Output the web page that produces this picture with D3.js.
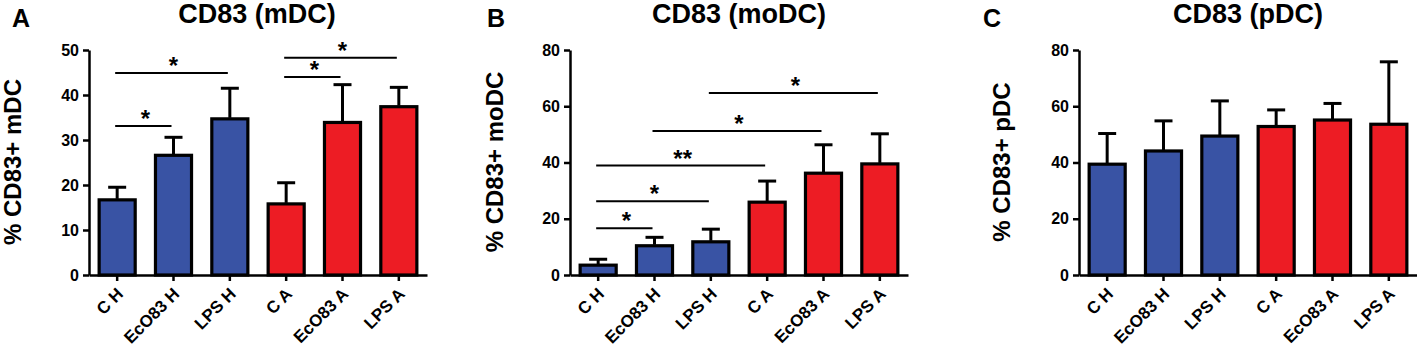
<!DOCTYPE html>
<html lang="en">
<head>
<meta charset="UTF-8">
<title>CD83 expression</title>
<script src="https://d3js.org/d3.v7.min.js"></script>
<style>
    body { margin: 0; background: #fff; }
    svg text { font-family: Arial, "Liberation Sans", sans-serif; font-weight: bold; fill: #000; }
</style>
</head>
<body>
<svg id="chart" width="1417" height="346"></svg>
<script>
    // Data
    var categories = ["C H", "EcO83 H", "LPS H", "C A", "EcO83 A", "LPS A"];
    var groupColor = ["#3953A4", "#3953A4", "#3953A4", "#ED1C24", "#ED1C24", "#ED1C24"];

    var mdcMean = [16.7, 26.6, 34.7, 15.8, 33.9, 37.4];
    var mdcSD = [2.8, 4.0, 6.8, 4.7, 8.4, 4.3];
    var mdcTicks = [0, 10, 20, 30, 40, 50];
    var mdcSig = [
        { from: "C H", to: "EcO83 H", y: 33.1, label: "*" },
        { from: "C H", to: "LPS H", y: 44.9, label: "*" },
        { from: "C A", to: "EcO83 A", y: 44.0, label: "*" },
        { from: "C A", to: "LPS A", y: 48.3, label: "*" }
    ];

    var modcMean = [3.5, 10.4, 11.8, 25.9, 36.2, 39.5];
    var modcSD = [2.1, 3.0, 4.5, 7.5, 10.1, 10.7];
    var modcTicks = [0, 20, 40, 60, 80];
    var modcSig = [
        { from: "C H", to: "EcO83 H", y: 16.6, label: "*" },
        { from: "C H", to: "LPS H", y: 26.2, label: "*" },
        { from: "C H", to: "C A", y: 38.9, label: "**" },
        { from: "EcO83 H", to: "EcO83 A", y: 51.2, label: "*" },
        { from: "LPS H", to: "LPS A", y: 64.7, label: "*" }
    ];

    var pdcMean = [39.4, 44.1, 49.4, 52.8, 55.1, 53.6];
    var pdcSD = [10.9, 10.7, 12.5, 5.9, 5.9, 22.2];
    var pdcTicks = [0, 20, 40, 60, 80];
    var pdcSig = [];

    var svg = d3.select("#chart");

    function drawPanel(p) {
        var g = svg.append("g");

        var x = d3.scaleBand()
            .domain(categories)
            .range([p.left, p.left + 338])
            .paddingInner(0.36)
            .paddingOuter(0.18);

        var y = d3.scaleLinear()
            .domain([0, p.max])
            .range([275, 50]);

        // panel letter and title
        g.append("text").attr("x", p.left - p.letterOff).attr("y", 27)
            .style("font-size", "25px").text(p.letter);
        g.append("text").attr("x", p.left + p.titleOff).attr("y", 23)
            .attr("text-anchor", "middle").style("font-size", "27px").text(p.title);

        // y label
        g.append("text")
            .attr("transform", "translate(" + (p.left - p.labelOff) + ",162) rotate(-90)")
            .attr("text-anchor", "middle")
            .style("font-size", "24px")
            .text(p.ylabel);

        // bars
        var rows = categories.map(function (c, i) {
            return { cat: c, mean: p.mean[i], sd: p.sd[i], color: groupColor[i] };
        });

        g.selectAll("rect.bar").data(rows).join("rect")
            .attr("class", "bar")
            .attr("x", function (d) { return x(d.cat); })
            .attr("y", function (d) { return y(d.mean); })
            .attr("width", x.bandwidth())
            .attr("height", function (d) { return y(0) - y(d.mean); })
            .attr("fill", function (d) { return d.color; })
            .attr("stroke", "#000")
            .attr("stroke-width", 3.2);

        // error bars
        var cx = function (d) { return x(d.cat) + x.bandwidth() / 2; };
        g.selectAll("line.err").data(rows).join("line")
            .attr("class", "err")
            .attr("x1", cx).attr("x2", cx)
            .attr("y1", function (d) { return y(d.mean) - 1; })
            .attr("y2", function (d) { return y(d.mean + d.sd); })
            .attr("stroke", "#000").attr("stroke-width", 3);
        g.selectAll("line.cap").data(rows).join("line")
            .attr("class", "cap")
            .attr("x1", function (d) { return cx(d) - 9; })
            .attr("x2", function (d) { return cx(d) + 9; })
            .attr("y1", function (d) { return y(d.mean + d.sd); })
            .attr("y2", function (d) { return y(d.mean + d.sd); })
            .attr("stroke", "#000").attr("stroke-width", 3);

        // y axis
        var yAxis = g.append("g")
            .attr("transform", "translate(" + p.left + ",0)")
            .call(d3.axisLeft(y).tickValues(p.ticks).tickSize(6).tickSizeOuter(0).tickPadding(4));
        yAxis.select(".domain").attr("stroke", "#000").attr("stroke-width", 2.5);
        yAxis.selectAll(".tick line").attr("stroke", "#000").attr("stroke-width", 2.5);
        yAxis.selectAll(".tick text").style("font-size", "16px").style("font-family", "Arial, 'Liberation Sans', sans-serif");

        // x axis
        var xAxis = g.append("g")
            .attr("transform", "translate(0," + y(0) + ")")
            .call(d3.axisBottom(x).tickSize(6).tickSizeOuter(0));
        xAxis.select(".domain").attr("stroke", "#000").attr("stroke-width", 2.5);
        xAxis.selectAll(".tick line").attr("stroke", "#000").attr("stroke-width", 2.5);
        xAxis.selectAll(".tick text")
            .style("font-size", "17px")
            .style("font-family", "Arial, 'Liberation Sans', sans-serif")
            .attr("text-anchor", "end")
            .attr("transform", "translate(7,20) rotate(-45)")
            .attr("y", 0).attr("dy", 0);

        // significance brackets
        g.selectAll("line.sig").data(p.sig).join("line")
            .attr("class", "sig")
            .attr("x1", function (d) { return x(d.from) + x.bandwidth() / 2 - 2; })
            .attr("x2", function (d) { return x(d.to) + x.bandwidth() / 2 - 2; })
            .attr("y1", function (d) { return y(d.y); })
            .attr("y2", function (d) { return y(d.y); })
            .attr("stroke", "#000").attr("stroke-width", 2);
        g.selectAll("text.star").data(p.sig).join("text")
            .attr("class", "star")
            .attr("x", function (d) { return (x(d.from) + x(d.to)) / 2 + x.bandwidth() / 2; })
            .attr("y", function (d) { return y(d.y) + 1; })
            .attr("text-anchor", "middle")
            .style("font-size", "24px")
            .text(function (d) { return d.label; });
    }

    drawPanel({ left: 89, max: 50, ticks: mdcTicks, mean: mdcMean, sd: mdcSD, sig: mdcSig,
        letter: "A", letterOff: 77, title: "CD83 (mDC)", titleOff: 168, ylabel: "% CD83+ mDC", labelOff: 68 });
    drawPanel({ left: 570, max: 80, ticks: modcTicks, mean: modcMean, sd: modcSD, sig: modcSig,
        letter: "B", letterOff: 83, title: "CD83 (moDC)", titleOff: 169, ylabel: "% CD83+ moDC", labelOff: 67 });
    drawPanel({ left: 1079, max: 80, ticks: pdcTicks, mean: pdcMean, sd: pdcSD, sig: pdcSig,
        letter: "C", letterOff: 96, title: "CD83 (pDC)", titleOff: 169, ylabel: "% CD83+ pDC", labelOff: 69 });
</script>
</body>
</html>
